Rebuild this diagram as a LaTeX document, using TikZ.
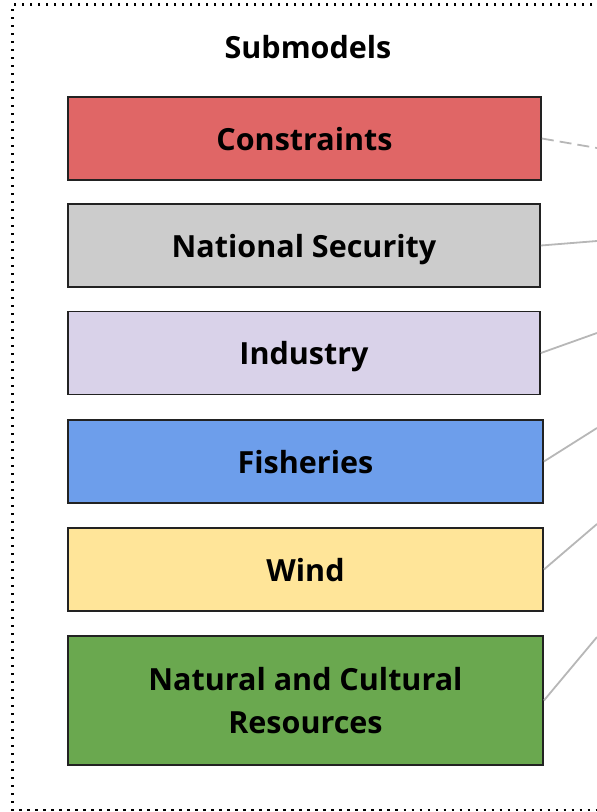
\documentclass[tikz,border=0pt]{standalone}
\usepackage{fontspec}
\setmainfont{Open Sans}
\usepackage{xcolor}
\definecolor{rojo}{HTML}{E06666}
\definecolor{gris}{HTML}{CCCCCC}
\definecolor{lila}{HTML}{D9D2E9}
\definecolor{azul}{HTML}{6D9EEB}
\definecolor{amarillo}{HTML}{FFE599}
\definecolor{verde}{HTML}{6AA84F}
\definecolor{borde}{HTML}{222222}
\definecolor{enlace}{HTML}{B7B7B7}
\tikzset{
  caja/.style={draw=borde, line width=1.8pt, minimum width=473pt, minimum height=83pt,
    inner sep=0pt, align=center, text depth=0pt, font=\bfseries\fontsize{30.5}{43}\selectfont},
  enlace/.style={draw=enlace, line width=1.8pt},
}

\begin{document}
\begin{tikzpicture}[x=1pt, y=-1pt]

% Área visible
\clip (0,0) rectangle (597,812);

% Marco punteado
\draw[line width=2.3pt, dash pattern=on 2.3pt off 5.7pt] (640,4.5) -- (12.5,4.5) -- (12.5,810) -- (640,810);

% Título
\node[text depth=0pt] (titulo) at (308,47) {\bfseries\fontsize{30.5}{34}\selectfont Submodels};

% Submodelos
\node[caja, fill=rojo] (restr) at (304.5,138.5) {Constraints};
\node[caja, fill=gris, minimum width=472pt] (seguridad) at (304,245.5) {National Security};
\node[caja, fill=lila, minimum width=472pt] (industria) at (304,353) {Industry};
\node[caja, fill=azul, minimum width=475pt] (pesca) at (305.5,461.5) {Fisheries};
\node[caja, fill=amarillo, minimum width=475pt] (viento) at (305.5,569.5) {Wind};
\node[caja, fill=verde, minimum width=475pt, minimum height=129pt] (natural) at (305.5,700.5)
  {Natural and Cultural\\Resources};

% Extremos de los enlaces
\coordinate (e1) at (597,148);
\coordinate (e2) at (597,241);
\coordinate (e3) at (597,333);
\coordinate (e4) at (597,428);
\coordinate (e5) at (597,524);
\coordinate (e6) at (597,637);

% Enlaces
\draw[enlace, dash pattern=on 12pt off 6pt] (restr.east) -- (e1);
\draw[enlace] (seguridad.east) -- (e2);
\draw[enlace] (industria.east) -- (e3);
\draw[enlace] (pesca.east) -- (e4);
\draw[enlace] (viento.east) -- (e5);
\draw[enlace] (natural.east) -- (e6);

\end{tikzpicture}
\end{document}
